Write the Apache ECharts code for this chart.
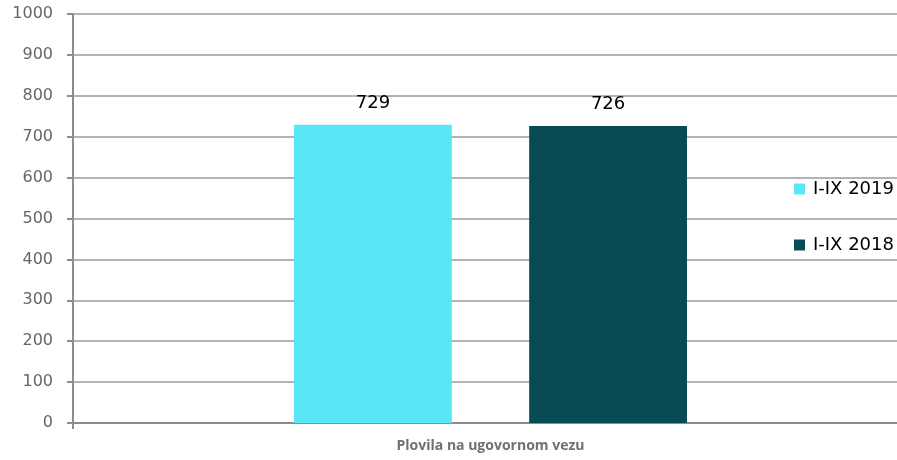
<!DOCTYPE html>
<html>
<head>
<meta charset="utf-8">
<title>Plovila na ugovornom vezu</title>
<script src="https://cdn.jsdelivr.net/npm/echarts@6/dist/echarts.min.js"></script>
<style>
  html, body { margin: 0; padding: 0; background: #fff; }
  #chart { width: 897px; height: 460px; }
</style>
</head>
<body>
<div id="chart"></div>
<script>
var categories = ['Plovila na ugovornom vezu'];
var seriesNames = ['I-IX 2019', 'I-IX 2018'];
var values2019 = [729];
var values2018 = [726];
var colors = ['#5be6f5', '#094b54'];

var myChart = echarts.init(document.getElementById('chart'));
var font = '"DejaVu Sans", sans-serif';

var option = {
    animation: false,
    color: colors,
    textStyle: { fontFamily: font },
    // plot area runs past the right edge of the picture, as in the original
    grid: { left: 73, top: 14, width: 835, height: 409, outerBoundsMode: 'none' },
    legend: {
        orient: 'vertical',
        left: 789,
        top: 175,
        itemWidth: 11,
        itemHeight: 11,
        itemGap: 38,
        icon: 'rect',
        textStyle: { fontSize: 18, color: '#000', fontFamily: font, padding: [0, 0, 0, 3] },
        data: seriesNames
    },
    xAxis: {
        type: 'category',
        data: categories,
        axisLine: { lineStyle: { color: '#8c8c8c', width: 2 } },
        axisTick: { show: true, length: 6, lineStyle: { color: '#8c8c8c', width: 2 } },
        axisLabel: { margin: 16, fontSize: 14, fontWeight: 'bold', color: '#707070', fontFamily: '"Open Sans", sans-serif' }
    },
    yAxis: {
        type: 'value',
        min: 0,
        max: 1000,
        interval: 100,
        axisLine: { show: true, lineStyle: { color: '#8c8c8c', width: 2 } },
        axisTick: { show: true, length: 6, lineStyle: { color: '#8c8c8c', width: 2 } },
        axisLabel: { margin: 20, fontSize: 16, color: '#666', formatter: function (v) { return String(v); } },
        splitLine: { lineStyle: { color: '#b3b3b3', width: 2 } }
    },
    series: [
        {
            name: seriesNames[0],
            type: 'bar',
            data: values2019,
            barWidth: '18.9%',
            barGap: '49%',
            label: { show: true, position: 'top', distance: 13, fontSize: 18, color: '#000' }
        },
        {
            name: seriesNames[1],
            type: 'bar',
            data: values2018,
            barWidth: '18.9%',
            label: { show: true, position: 'top', distance: 13, fontSize: 18, color: '#000' }
        }
    ]
};
myChart.setOption(option);
</script>
</body>
</html>
